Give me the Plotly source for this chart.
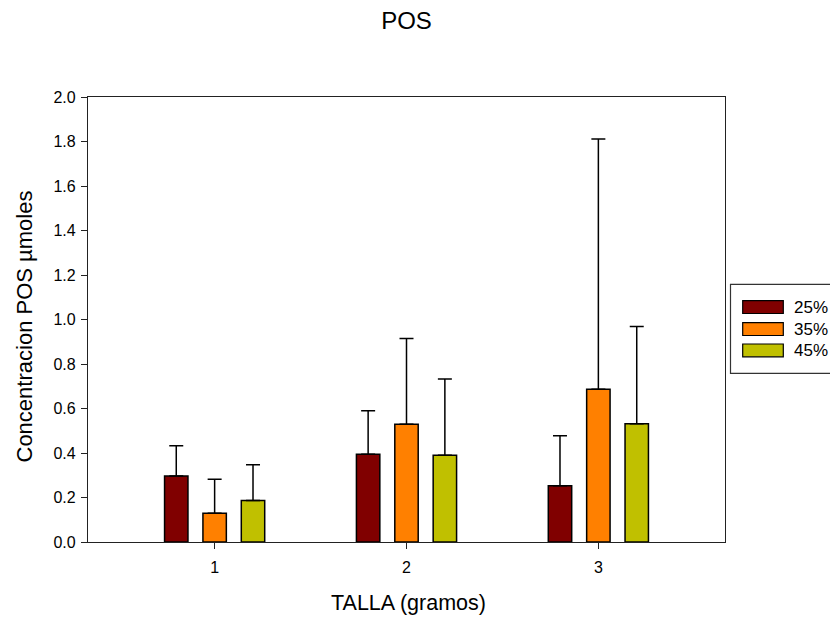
import plotly.graph_objects as go

# Size classes (grams) and mean POS concentration per protein level
tallas = [1, 2, 3]
series_names = ["25%", "35%", "45%"]
series_colors = ["#800000", "#FF8000", "#C0C000"]

pos_25 = [0.297, 0.394, 0.253]
pos_35 = [0.129, 0.529, 0.686]
pos_45 = [0.187, 0.390, 0.532]

err_25 = [0.136, 0.196, 0.225]
err_35 = [0.153, 0.386, 1.125]
err_45 = [0.160, 0.343, 0.436]

y_ticks = [0.0, 0.2, 0.4, 0.6, 0.8, 1.0, 1.2, 1.4, 1.6, 1.8, 2.0]

means = [pos_25, pos_35, pos_45]
errors = [err_25, err_35, err_45]

FONT = "Liberation Sans, Arial, sans-serif"

fig = go.Figure()
for name, color, m, e in zip(series_names, series_colors, means, errors):
    fig.add_trace(go.Bar(
        x=tallas, y=m, name=name,
        marker=dict(color=color, line=dict(color="black", width=1.5)),
        error_y=dict(type="data", symmetric=False, array=e,
                     arrayminus=[0] * len(e), color="black",
                     thickness=1.5, width=7),
        showlegend=False,
    ))

# Margins of the plotting box (px)
L, R, T, B = 88, 105, 97, 75
W, H = 830 - L - R, 617 - T - B


def px_x(px):
    return (px - L) / W


def px_y(py):
    return (617 - B - py) / H


# Hand-drawn legend box with wide colour swatches
shapes = [dict(type="rect", xref="paper", yref="paper",
               x0=px_x(730.5), x1=px_x(845), y0=px_y(373.3), y1=px_y(284.3),
               line=dict(color="#333333", width=1.2), fillcolor="white",
               layer="above")]
annotations = []
swatch_top = [300.7, 322.7, 344.0]
for name, color, top in zip(series_names, series_colors, swatch_top):
    shapes.append(dict(type="rect", xref="paper", yref="paper",
                       x0=px_x(742.7), x1=px_x(783.3),
                       y0=px_y(top + 12.8), y1=px_y(top),
                       line=dict(color="black", width=1.2), fillcolor=color,
                       layer="above"))
    annotations.append(dict(xref="paper", yref="paper", x=px_x(792.0),
                            y=px_y(top + 6.4), text=name, showarrow=False,
                            xanchor="left", yanchor="middle",
                            font=dict(family=FONT, size=17, color="black")))

# Y-axis title, placed slightly below the plot's vertical centre
annotations.append(dict(xref="paper", yref="paper", x=px_x(24), y=px_y(326.5),
                        text="Concentracion POS µmoles", textangle=-90,
                        showarrow=False, xanchor="center", yanchor="middle",
                        font=dict(family=FONT, size=22, color="black")))

# X-axis title
annotations.append(dict(xref="paper", yref="paper", x=px_x(408), y=px_y(603),
                        text="TALLA (gramos)", showarrow=False,
                        xanchor="center", yanchor="middle",
                        font=dict(family=FONT, size=21.5, color="black")))

fig.update_layout(
    width=830, height=617,
    margin=dict(l=L, r=R, t=T, b=B, autoexpand=False),
    paper_bgcolor="white", plot_bgcolor="white",
    barmode="group", bargap=0.4, bargroupgap=0.39,
    font=dict(family=FONT, size=16, color="black"),
    title=dict(text="POS", x=0.5, xref="paper", xanchor="center",
               y=1 - 21 / 617, yref="container", yanchor="middle",
               font=dict(family=FONT, size=24, color="black")),
    shapes=shapes,
    annotations=annotations,
    showlegend=False,
)

fig.update_xaxes(
    range=[0.34, 3.66], tickvals=tallas, ticktext=[str(t) for t in tallas],
    showline=True, linecolor="#222222", linewidth=1.3, mirror=True,
    ticks="outside", ticklen=6, tickcolor="#222222", tickwidth=1.2,
    showgrid=False, zeroline=False, ticklabelstandoff=5, automargin=False,
    tickfont=dict(family=FONT, size=16),
)
fig.update_yaxes(
    range=[0, 2.0], tickvals=y_ticks, ticktext=[f"{v:.1f}" for v in y_ticks],
    showline=True, linecolor="#222222", linewidth=1.3, mirror=True,
    ticks="outside", ticklen=6, tickcolor="#222222", tickwidth=1.2,
    showgrid=False, zeroline=False, ticklabelstandoff=2, automargin=False,
    tickfont=dict(family=FONT, size=16),
)

fig.write_html("out.html")
